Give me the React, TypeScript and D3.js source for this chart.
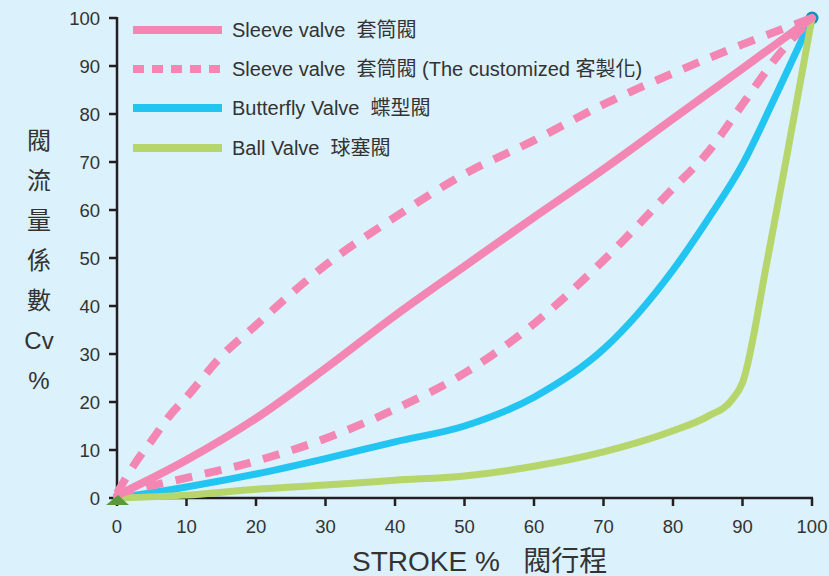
import React from "react";
import * as d3 from "d3";

const W = 829;
const H = 576;

const xTicks = [0, 10, 20, 30, 40, 50, 60, 70, 80, 90, 100];
const yTicks = [0, 10, 20, 30, 40, 50, 60, 70, 80, 90, 100];

// Sleeve valve (solid)
const sleeveX = [0, 10, 20, 30, 40, 50, 60, 70, 80, 90, 100];
const sleeveY = [0.5, 7.9, 16.6, 27, 38, 48.3, 58.5, 68.5, 79, 89.5, 100];

// Sleeve valve customized (upper dashed)
const customUpX = [0, 2.5, 5, 7.5, 10, 15, 20, 25, 30, 40, 50, 60, 70, 80, 90, 100];
const customUpY = [1, 7, 12, 17, 21, 29.5, 36, 42.5, 48.5, 58.5, 67.5, 74.5, 82, 88.5, 94.5, 100];

// Sleeve valve customized (lower dashed)
const customLowX = [0, 10, 20, 30, 40, 50, 60, 70, 80, 85, 90, 95, 100];
const customLowY = [1, 4.2, 7.7, 12.4, 18.5, 26, 36.3, 49.5, 64.5, 72, 82, 92, 100];

// Butterfly valve
const butterflyX = [0, 10, 20, 30, 40, 50, 60, 70, 80, 85, 90, 95, 100];
const butterflyY = [0, 2.3, 5, 8.2, 11.7, 15, 21, 31, 47.5, 58, 69.5, 84.5, 100];

// Ball valve
const ballX = [0, 10, 20, 30, 40, 50, 60, 70, 80, 85, 88.5, 90, 93.5, 96.6, 100];
const ballY = [0, 0.6, 1.8, 2.7, 3.7, 4.6, 6.6, 9.6, 14, 17, 20.5, 24, 49, 73, 100];

const legendLabels = [
  "Sleeve valve  套筒閥",
  "Sleeve valve  套筒閥 (The customized 客製化)",
  "Butterfly Valve  蝶型閥",
  "Ball Valve  球塞閥",
];
const yTitleChars = ["閥", "流", "量", "係", "數", "Cv", "%"];
const xTitle = "STROKE %   閥行程";

const PINK = "#F386B3";
const BLUE = "#22C4F1";
const GREEN = "#B6D66B";
const BG = "#DBF1FC";
const AXIS = "#231F20";
const TEXT = "#333333";
const FONT = "'Liberation Sans', Arial, 'Noto Sans CJK TC', sans-serif";

const zip = (xs: number[], ys: number[]) => xs.map((x, i) => [x, ys[i]] as [number, number]);

export default function App() {
  const x = d3.scaleLinear().domain([0, 100]).range([117, 812]);
  const y = d3.scaleLinear().domain([0, 100]).range([498, 18]);
  const line = d3
    .line<[number, number]>()
    .x((d) => x(d[0]))
    .y((d) => y(d[1]))
    .curve(d3.curveMonotoneX);

  const series = [
    { key: "blue", d: zip(butterflyX, butterflyY), color: BLUE, dash: null, w: 7 },
    { key: "green", d: zip(ballX, ballY), color: GREEN, dash: null, w: 7 },
    { key: "low", d: zip(customLowX, customLowY), color: PINK, dash: "17 13", w: 8 },
    { key: "up", d: zip(customUpX, customUpY), color: PINK, dash: "17 13", w: 8 },
    { key: "sleeve", d: zip(sleeveX, sleeveY), color: PINK, dash: null, w: 8 },
  ];

  const legend = [
    { color: PINK, dash: null },
    { color: PINK, dash: "11 8" },
    { color: BLUE, dash: null },
    { color: GREEN, dash: null },
  ];
  const legendY = [30, 69, 108, 148];

  const x0 = x(0);
  const y0 = y(0);

  return (
    <div style={{ position: "fixed", left: 0, top: 0, width: W, height: H }}>
      <svg width={W} height={H} style={{ display: "block", fontFamily: FONT }}>
        <rect x={0} y={0} width={W} height={H} fill={BG} />

        {/* axes */}
        <line x1={x0} x2={x0} y1={y(100) - 1} y2={y0 + 1} stroke={AXIS} strokeWidth={2.5} />
        <line x1={x0 - 1} x2={x(100) + 1} y1={y0} y2={y0} stroke={AXIS} strokeWidth={2.5} />
        {yTicks.map((t) => (
          <g key={"y" + t}>
            <line x1={x0 - 8} x2={x0} y1={y(t)} y2={y(t)} stroke={AXIS} strokeWidth={2.5} />
            <text x={100} y={y(t)} dy="0.36em" textAnchor="end" fontSize={18.5} fill={TEXT}>
              {t}
            </text>
          </g>
        ))}
        {xTicks.map((t) => (
          <g key={"x" + t}>
            <line x1={x(t)} x2={x(t)} y1={y0} y2={y0 + 8} stroke={AXIS} strokeWidth={2.5} />
            <text x={x(t)} y={533} textAnchor="middle" fontSize={18.5} fill={TEXT}>
              {t}
            </text>
          </g>
        ))}

        {/* end markers */}
        <circle cx={x(100)} cy={y(100)} r={6.5} fill="#1590B8" />

        {/* series */}
        {series.map((s) => (
          <path
            key={s.key}
            d={line(s.d) || ""}
            fill="none"
            stroke={s.color}
            strokeWidth={s.w}
            strokeDasharray={s.dash || undefined}
            strokeLinecap={s.dash ? "butt" : "round"}
            strokeLinejoin="round"
          />
        ))}
        <path
          d={`M${x0 - 11},${y0 + 7} L${x0 + 1},${y0 - 3} L${x0 + 12},${y0 + 7} Z`}
          fill="#5A9A3C"
        />

        {/* legend */}
        {legend.map((l, i) => (
          <g key={"lg" + i}>
            <line
              x1={133}
              x2={222}
              y1={legendY[i]}
              y2={legendY[i]}
              stroke={l.color}
              strokeWidth={8}
              strokeDasharray={l.dash || undefined}
            />
            <text x={232} y={legendY[i]} dy="0.36em" fontSize={20} fill={TEXT} style={{ whiteSpace: "pre" }}>
              {legendLabels[i]}
            </text>
          </g>
        ))}

        {/* y title */}
        {yTitleChars.map((c, i) => (
          <text key={"yt" + i} x={39} y={140 + i * 40} dy="0.36em" textAnchor="middle" fontSize={24} fill={TEXT}>
            {c}
          </text>
        ))}

        {/* x title */}
        <text x={352} y={571} fontSize={28} fill={TEXT} style={{ whiteSpace: "pre" }}>
          {xTitle}
        </text>
      </svg>
    </div>
  );
}
